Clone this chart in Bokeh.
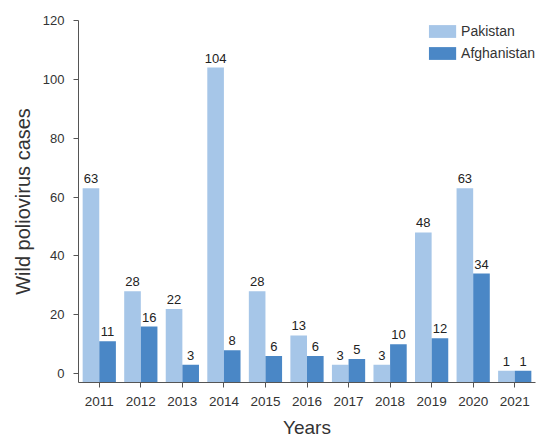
from bokeh.plotting import figure
from bokeh.models import ColumnDataSource, FactorRange, FixedTicker, Legend, LegendItem
from bokeh.transform import dodge
from bokeh.core.properties import value
from bokeh.embed import file_html
from bokeh.resources import INLINE

years = ["2011", "2012", "2013", "2014", "2015", "2016", "2017", "2018", "2019", "2020", "2021"]
pakistan = [63, 28, 22, 104, 28, 13, 3, 3, 48, 63, 1]
afghanistan = [11, 16, 3, 8, 6, 6, 5, 10, 12, 34, 1]
y_ticks = [0, 20, 40, 60, 80, 100, 120]

FONT = "Liberation Sans"
C_PAK = "#a6c6e8"
C_AFG = "#4a87c6"

src = ColumnDataSource(dict(
    years=years, pak=pakistan, afg=afghanistan,
    pak_txt=[str(v) for v in pakistan], afg_txt=[str(v) for v in afghanistan],
))

p = figure(x_range=FactorRange(*years), y_range=(-3, 120),
           width=546, height=440, output_backend="svg", toolbar_location=None,
           min_border_left=78, min_border_right=11, min_border_top=20, min_border_bottom=56)

r_pak = p.vbar(x=dodge("years", -0.2, range=p.x_range), top="pak", bottom=-3, width=0.4,
               source=src, fill_color=C_PAK, line_color=None)
r_afg = p.vbar(x=dodge("years", 0.2, range=p.x_range), top="afg", bottom=-3, width=0.4,
               source=src, fill_color=C_AFG, line_color=None)

for col, off in (("pak", -0.2), ("afg", 0.2)):
    p.text(x=dodge("years", off, range=p.x_range), y=col, text=col + "_txt", source=src,
           text_align="center", text_baseline="bottom", y_offset=-5,
           text_font=value(FONT), text_font_size="13px", text_color="#222222")

p.xgrid.visible = False
p.ygrid.visible = False
p.outline_line_color = None
p.background_fill_color = "white"

for ax in (p.xaxis[0], p.yaxis[0]):
    ax.axis_line_color = "#555555"
    ax.major_tick_line_color = "#555555"
    ax.major_tick_out = 5
    ax.major_tick_in = 0
    ax.minor_tick_line_color = None
    ax.major_label_text_font = FONT
    ax.major_label_text_color = "#333333"
    ax.axis_label_text_font = FONT
    ax.axis_label_text_font_style = "normal"
    ax.axis_label_text_color = "#333333"

p.xaxis.major_label_text_font_size = "13.5px"
p.xaxis.major_label_standoff = 9
p.xaxis.axis_label = "Years"
p.xaxis.axis_label_text_font_size = "19px"
p.xaxis.axis_label_standoff = 8

p.yaxis.ticker = FixedTicker(ticks=y_ticks)
p.yaxis.major_label_text_font_size = "13px"
p.yaxis.major_label_standoff = 9
p.yaxis.axis_label = "Wild poliovirus cases"
p.yaxis.axis_label_text_font_size = "20px"
p.yaxis.axis_label_standoff = 6

legend = Legend(items=[LegendItem(label="Pakistan", renderers=[r_pak]),
                       LegendItem(label="Afghanistan", renderers=[r_afg])],
                location="top_right", margin=0, padding=1, spacing=0,
                glyph_width=34, glyph_height=16, label_height=22, label_standoff=2,
                label_text_font=FONT, label_text_font_size="14px", label_text_color="#333333",
                border_line_color=None, background_fill_alpha=0)
p.add_layout(legend)

open("out.html", "w").write(file_html(p, INLINE))
